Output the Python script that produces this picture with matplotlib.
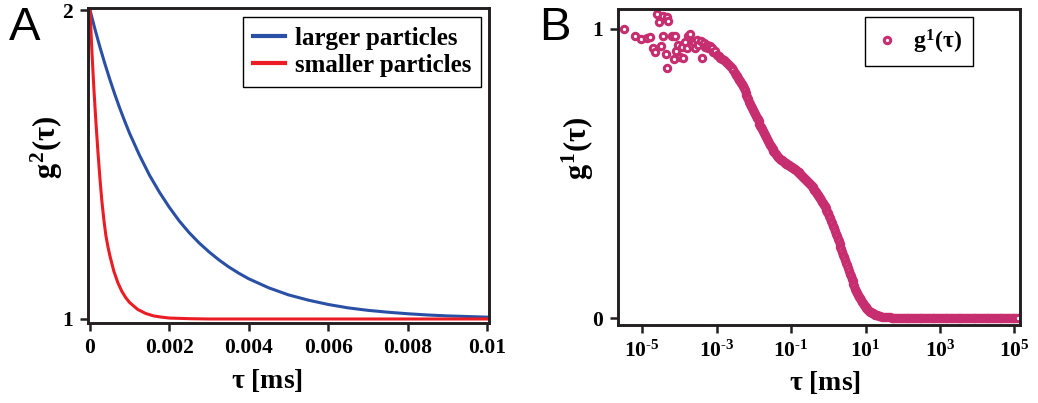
import numpy as np
import matplotlib
matplotlib.use("Agg")
from matplotlib import pyplot as plt
from matplotlib.ticker import FixedLocator, FixedFormatter

plt.rcParams['font.family'] = ['Liberation Serif', 'DejaVu Serif']
plt.rcParams['font.weight'] = 'bold'
plt.rcParams['axes.labelweight'] = 'bold'
plt.rcParams['mathtext.fontset'] = 'custom'
plt.rcParams['mathtext.rm'] = 'Liberation Serif:bold'
plt.rcParams['mathtext.it'] = 'Liberation Serif:bold'
plt.rcParams['mathtext.bf'] = 'Liberation Serif:bold'

ink = '#231f20'
blue = '#2a50a6'
red = '#ec1c24'
pink = '#c62e70'

# ---- panel A: g2(tau) ----
tau_large = [0, 0.000125, 0.00025, 0.000375, 0.0005, 0.000625, 0.00075, 0.000875,
             0.001, 0.00125, 0.0015, 0.00175, 0.002, 0.00225, 0.0025, 0.00275,
             0.003, 0.00325, 0.0035, 0.00375, 0.004, 0.0045, 0.005, 0.0055, 0.006,
             0.0065, 0.007, 0.0075, 0.008, 0.0085, 0.009, 0.0095, 0.01]
g2_large = [2.0, 1.938, 1.880, 1.826, 1.775, 1.727, 1.682, 1.640,
            1.600, 1.529, 1.465, 1.410, 1.361, 1.317, 1.279, 1.246,
            1.217, 1.191, 1.168, 1.148, 1.130, 1.101, 1.078, 1.061, 1.047,
            1.036, 1.028, 1.022, 1.017, 1.013, 1.010, 1.008, 1.006]

tau_small = [0, 0.00005, 0.0001, 0.00015, 0.0002, 0.00025, 0.0003, 0.00035, 0.0004,
             0.00045, 0.0005, 0.0006, 0.0007, 0.0008, 0.0009, 0.001, 0.0012, 0.0014,
             0.0016, 0.0018, 0.002, 0.0025, 0.003, 0.004, 0.006, 0.008, 0.01]
g2_small = [2.0, 1.86, 1.74, 1.635, 1.54, 1.455, 1.38, 1.32, 1.27,
            1.235, 1.205, 1.155, 1.118, 1.090, 1.069, 1.053, 1.031, 1.018,
            1.010, 1.006, 1.003, 1.001, 1.0, 1.0, 1.0, 1.0, 1.0]

a_xticks = [0, 0.002, 0.004, 0.006, 0.008, 0.01]
a_xlabels = ['0', '0.002', '0.004', '0.006', '0.008', '0.01']

# ---- panel B: measured g1(tau), as log10(tau) and value ----
noisy_logtau = [-5.49, -5.20, -5.02, -4.88, -4.79, -4.72, -4.66, -4.60, -4.54, -4.50,
                -4.43, -4.43, -4.37, -4.34, -4.34, -4.30, -4.21, -4.14, -4.12, -4.08,
                -4.05, -3.99, -3.94, -3.91, -3.85, -3.81, -3.76, -3.72, -3.67, -3.60,
                -3.58, -3.52, -3.49, -3.42, -3.40, -3.35, -3.31, -3.25, -3.23, -3.18,
                -3.13, -3.09, -3.05]
noisy_g1 = [0.999, 0.976, 0.965, 0.970, 0.972, 0.933, 0.921, 1.052, 1.023, 0.942,
            1.045, 0.974, 0.912, 1.043, 0.866, 1.028, 0.977, 0.896, 0.977, 0.924,
            0.945, 0.904, 0.939, 0.901, 0.956, 0.935, 0.974, 0.982, 0.945, 0.955,
            0.933, 0.962, 0.945, 0.958, 0.901, 0.950, 0.939, 0.945, 0.933, 0.940,
            0.935, 0.921, 0.925]

# plateau end, before the first decay
early_logtau = [-3.00, -2.95, -2.90, -2.85, -2.80, -2.75, -2.70, -2.65, -2.60, -2.55]
early_g1 = [0.910, 0.906, 0.901, 0.897, 0.892, 0.886, 0.880, 0.873, 0.865, 0.857]

# both decays
decay_logtau = [
    -2.500, -2.475, -2.450, -2.425, -2.400, -2.375, -2.350, -2.325, -2.300, -2.275,
    -2.250, -2.225, -2.200, -2.175, -2.150, -2.125, -2.100, -2.075, -2.050, -2.025,
    -2.000, -1.975, -1.950, -1.925, -1.900, -1.875, -1.850, -1.825, -1.800, -1.775,
    -1.750, -1.725, -1.700, -1.675, -1.650, -1.625, -1.600, -1.575, -1.550, -1.525,
    -1.500, -1.475, -1.450, -1.425, -1.400, -1.375, -1.350, -1.325, -1.300, -1.275,
    -1.250, -1.225, -1.200, -1.175, -1.150, -1.125, -1.100, -1.075, -1.050, -1.025,
    -1.000, -0.975, -0.950, -0.925, -0.900, -0.875, -0.850, -0.825, -0.800, -0.775,
    -0.750, -0.725, -0.700, -0.675, -0.650, -0.625, -0.600, -0.575, -0.550, -0.525,
    -0.500, -0.475, -0.450, -0.425, -0.400, -0.375, -0.350, -0.325, -0.300, -0.275,
    -0.250, -0.225, -0.200, -0.175, -0.150, -0.125, -0.100, -0.075, -0.050, -0.025,
    0.000, 0.025, 0.050, 0.075, 0.100, 0.125, 0.150, 0.175, 0.200, 0.225,
    0.250, 0.275, 0.300, 0.325, 0.350, 0.375, 0.400, 0.425, 0.450, 0.475,
    0.500, 0.525, 0.550, 0.575, 0.600, 0.625, 0.650, 0.675, 0.700, 0.725,
    0.750, 0.775, 0.800, 0.825, 0.850, 0.875, 0.900, 0.925, 0.950, 0.975,
    1.000, 1.025, 1.050, 1.075, 1.100, 1.125, 1.150, 1.175, 1.200, 1.225,
    1.250, 1.275, 1.300]
decay_g1 = [
    0.847, 0.842, 0.836, 0.830, 0.825, 0.820, 0.814, 0.808, 0.802, 0.795,
    0.788, 0.780, 0.772, 0.765, 0.757, 0.749, 0.741, 0.734, 0.727, 0.720,
    0.713, 0.706, 0.700, 0.693, 0.687, 0.680, 0.673, 0.666, 0.660, 0.653,
    0.646, 0.639, 0.632, 0.625, 0.619, 0.612, 0.606, 0.600, 0.594, 0.589,
    0.584, 0.579, 0.575, 0.570, 0.566, 0.562, 0.558, 0.554, 0.551, 0.548,
    0.546, 0.543, 0.541, 0.538, 0.536, 0.534, 0.532, 0.530, 0.528, 0.526,
    0.524, 0.521, 0.519, 0.516, 0.514, 0.511, 0.509, 0.506, 0.504, 0.501,
    0.499, 0.496, 0.493, 0.489, 0.486, 0.482, 0.479, 0.475, 0.472, 0.468,
    0.465, 0.461, 0.457, 0.453, 0.449, 0.444, 0.440, 0.435, 0.430, 0.425,
    0.419, 0.414, 0.408, 0.403, 0.397, 0.391, 0.386, 0.380, 0.374, 0.368,
    0.362, 0.354, 0.346, 0.337, 0.329, 0.320, 0.311, 0.302, 0.292, 0.283,
    0.274, 0.265, 0.256, 0.247, 0.238, 0.228, 0.219, 0.210, 0.201, 0.192,
    0.183, 0.173, 0.164, 0.154, 0.145, 0.136, 0.127, 0.118, 0.110, 0.102,
    0.095, 0.088, 0.081, 0.074, 0.068, 0.062, 0.056, 0.051, 0.046, 0.042,
    0.038, 0.034, 0.031, 0.028, 0.025, 0.022, 0.020, 0.018, 0.016, 0.014,
    0.012, 0.010, 0.009]

# long-time baseline
tail_logtau = [
    1.35, 1.40, 1.45, 1.50, 1.55, 1.60, 1.65, 1.70, 1.75, 1.80, 1.85, 1.90, 1.95,
    2.00, 2.05, 2.10, 2.15, 2.20, 2.25, 2.30, 2.35, 2.40, 2.45, 2.50, 2.55, 2.60,
    2.65, 2.70, 2.75, 2.80, 2.85, 2.90, 2.95, 3.00, 3.05, 3.10, 3.15, 3.20, 3.25,
    3.30, 3.35, 3.40, 3.45, 3.50, 3.55, 3.60, 3.65, 3.70, 3.75, 3.80, 3.85, 3.90,
    3.95, 4.00, 4.05, 4.10, 4.15, 4.20, 4.25, 4.30, 4.35, 4.40, 4.45, 4.50, 4.55,
    4.60, 4.65, 4.70, 4.75, 4.80, 4.85, 4.90, 4.95, 5.00, 5.05, 5.10]
tail_g1 = [
    0.007, 0.006, 0.005, 0.004, 0.004, 0.003, 0.003, 0.002, 0.002, 0.002, 0.002, 0.001, 0.001,
    0.001, 0.001, 0.001, 0.000, 0.000, 0.000, 0.000, 0.000, 0.000, 0.000, 0.000, 0.000, 0.000,
    0.000, 0.000, 0.000, 0.000, 0.000, 0.000, 0.000, 0.000, 0.000, 0.000, 0.000, 0.000, 0.000,
    0.000, 0.000, 0.000, 0.000, 0.000, 0.000, 0.000, 0.000, 0.000, 0.000, 0.000, 0.000, 0.000,
    0.000, 0.000, 0.000, 0.000, 0.000, 0.000, 0.000, 0.000, 0.000, 0.000, 0.000, 0.000, 0.000,
    0.000, 0.000, 0.000, 0.000, 0.000, 0.000, 0.000, 0.000, 0.000, 0.000, 0.000]

b_xtick_exp = [-5, -3, -1, 1, 3, 5]

tau_b = 10.0 ** np.array(noisy_logtau + early_logtau + decay_logtau + tail_logtau)
g1_b = np.array(noisy_g1 + early_g1 + decay_g1 + tail_g1)

'''
    Figure and axes placed to match the reference layout
'''
fig = plt.figure(figsize=(10.38, 4.03), dpi=100)
axA = fig.add_axes([0.0848, 0.1985, 0.3863, 0.7816])
axB = fig.add_axes([0.5954, 0.1935, 0.3873, 0.7841])


def style_axes(ax):
    for s in ax.spines.values():
        s.set_linewidth(2.1)
        s.set_color(ink)
    ax.tick_params(which='major', direction='out', length=6, width=1.8,
                   color=ink, labelsize=15.5, pad=5)
    ax.tick_params(which='minor', length=0)


# panel A
axA.plot(tau_large, g2_large, color=blue, lw=2.2, label='larger particles')
axA.plot(tau_small, g2_small, color=red, lw=2.2, label='smaller particles')
axA.set_xlim(-0.00005, 0.01005)
axA.set_ylim(0.987, 2.0065)
axA.xaxis.set_major_locator(FixedLocator(a_xticks))
axA.xaxis.set_major_formatter(FixedFormatter(a_xlabels))
axA.yaxis.set_major_locator(FixedLocator([1, 2]))
axA.yaxis.set_major_formatter(FixedFormatter(['1', '2']))
style_axes(axA)
axA.set_xlabel(r'$\tau$ [ms]', fontsize=20)
axA.set_ylabel(r'$g^{2}(\tau)$', fontsize=22)
axA.xaxis.set_label_coords(0.446, -0.14)
axA.yaxis.set_label_coords(-0.058, 0.557)
legA = axA.legend(loc='upper right', bbox_to_anchor=(0.98, 0.971), borderaxespad=0,
                  prop={'family': 'Liberation Serif', 'weight': 'bold', 'size': 18},
                  handlelength=1.3, handletextpad=0.4, borderpad=0.38,
                  labelspacing=0.18, fancybox=False, framealpha=1, edgecolor='black')
legA.get_frame().set_linewidth(1.0)
for h in legA.get_lines():
    h.set_linewidth(3.0)
for t in legA.get_texts():
    t.set_fontweight('bold')

# panel B
axB.semilogx(tau_b, g1_b, linestyle='none', marker='o', markersize=4.6,
             markeredgewidth=2.2, markerfacecolor='white', markeredgecolor=pink,
             label=r'$g^{1}(\tau)$')
axB.set_xlim(10 ** -5.65, 10 ** 5.15)
axB.set_ylim(-0.024, 1.069)
axB.xaxis.set_major_locator(FixedLocator([10.0 ** e for e in b_xtick_exp]))
axB.xaxis.set_major_formatter(FixedFormatter(
    [r'$10^{\text{%d}}$' % e for e in b_xtick_exp]))
axB.xaxis.set_minor_locator(FixedLocator([]))
axB.yaxis.set_major_locator(FixedLocator([0, 1]))
axB.yaxis.set_major_formatter(FixedFormatter(['0', '1']))
style_axes(axB)
axB.set_xlabel(r'$\tau$ [ms]', fontsize=20)
axB.set_ylabel(r'$g^{1}(\tau)$', fontsize=22)
axB.xaxis.set_label_coords(0.514, -0.14)
axB.yaxis.set_label_coords(-0.055, 0.56)
legB = axB.legend(loc='upper right', bbox_to_anchor=(0.883, 0.975), borderaxespad=0,
                  prop={'family': 'Liberation Serif', 'weight': 'bold', 'size': 17},
                  numpoints=1, handlelength=1.0, handletextpad=0.6,
                  borderpad=0.45, fancybox=False, framealpha=1, edgecolor='black')
legB.get_frame().set_linewidth(1.0)

# panel letters
fig.text(0.009, 0.985, 'A', fontsize=34, family='Liberation Sans', weight='normal',
         va='top', ha='left')
fig.text(0.519, 0.985, 'B', fontsize=34, family='Liberation Sans', weight='normal',
         va='top', ha='left')

fig.savefig('out.png', dpi=100)
